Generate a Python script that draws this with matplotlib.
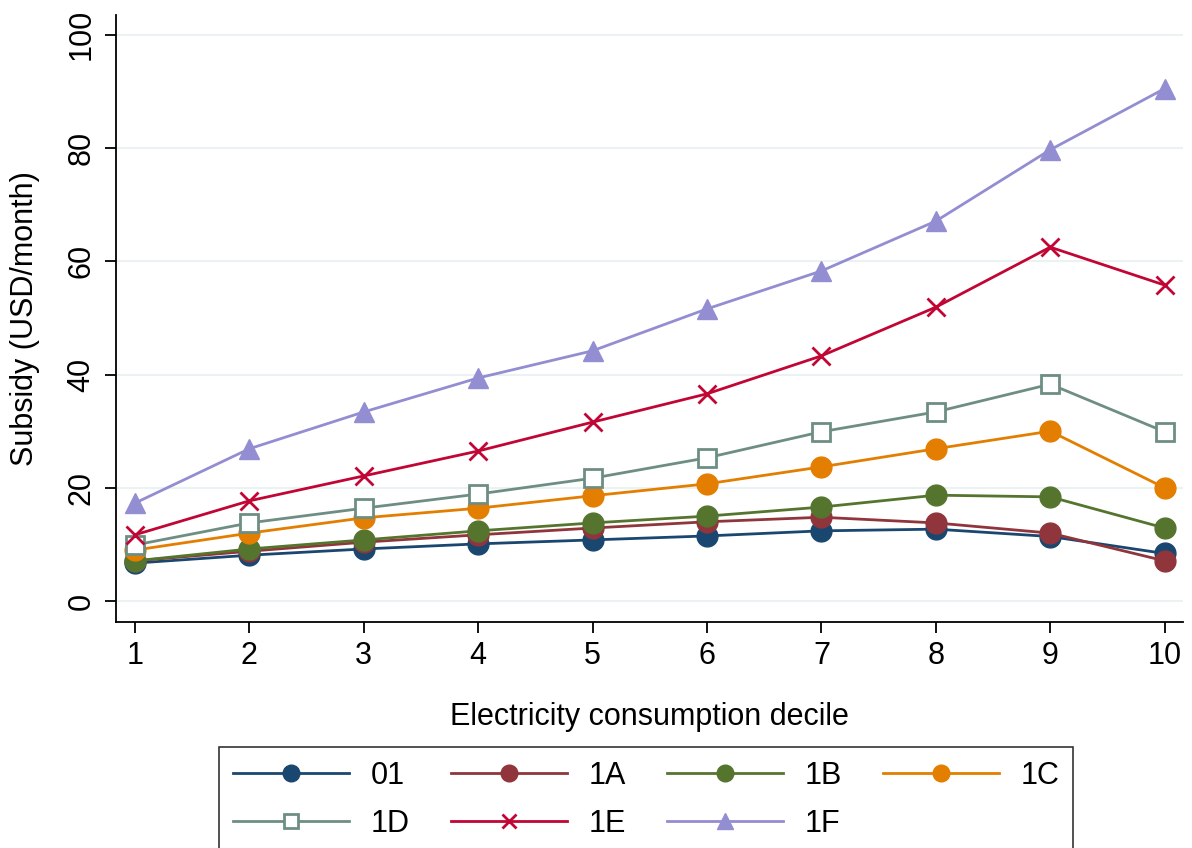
import numpy as np
import matplotlib
matplotlib.use("Agg")
import matplotlib.pyplot as plt

plt.rcParams['font.family'] = ['Liberation Sans', 'DejaVu Sans']

# deciles and subsidy series (USD/month)
deciles = [1, 2, 3, 4, 5, 6, 7, 8, 9, 10]
s_01 = [6.7, 8.1, 9.2, 10.1, 10.8, 11.5, 12.4, 12.7, 11.4, 8.4]
s_1A = [7.1, 8.8, 10.4, 11.7, 12.9, 14.0, 14.8, 13.8, 12.0, 7.1]
s_1B = [7.1, 9.2, 10.8, 12.4, 13.8, 15.0, 16.6, 18.7, 18.4, 12.9]
s_1C = [9.0, 12.0, 14.7, 16.4, 18.6, 20.7, 23.7, 26.9, 30.0, 20.0]
s_1D = [9.9, 13.8, 16.4, 18.9, 21.7, 25.3, 29.9, 33.4, 38.3, 29.9]
s_1E = [11.7, 17.7, 22.1, 26.5, 31.6, 36.6, 43.3, 51.9, 62.5, 55.8]
s_1F = [17.3, 26.9, 33.4, 39.4, 44.2, 51.6, 58.3, 67.1, 79.7, 90.5]

labels = ['01', '1A', '1B', '1C', '1D', '1E', '1F']
series = [s_01, s_1A, s_1B, s_1C, s_1D, s_1E, s_1F]
colors = ['#1a476f', '#90353b', '#55752f', '#e37e00', '#6e8e84', '#c10534', '#938dd2']
markers = ['o', 'o', 'o', 'o', 's', 'x', '^']

fig = plt.figure(figsize=(11.92, 8.48), dpi=100)
ax = fig.add_axes([0.0973, 0.2665, 0.8951, 0.7158])

for lab, ys, c, m in zip(labels, series, colors, markers):
    kw = dict(color=c, lw=2, marker=m, label=lab)
    if m == 's':
        kw.update(markersize=12.5, markerfacecolor='white', markeredgecolor=c, markeredgewidth=2)
    elif m == 'x':
        kw.update(markersize=13, markeredgewidth=2)
    elif m == '^':
        kw.update(markersize=15, markeredgecolor=c)
    else:
        kw.update(markersize=15, markeredgecolor=c)
    ax.plot(deciles, ys, **kw)

ax.set_xlim(0.834, 10.16)
ax.set_ylim(-3.7, 103.5)
ax.set_xticks(deciles)
ax.set_yticks([0, 20, 40, 60, 80, 100])
ax.grid(axis='y', color='#eaf2f3', lw=1.5)
ax.set_axisbelow(True)
for sp in ['top', 'right']:
    ax.spines[sp].set_visible(False)
for sp in ['left', 'bottom']:
    ax.spines[sp].set_linewidth(1.3)
ax.tick_params(direction='out', length=8, width=1.3, labelsize=22, colors='black', pad=6)
plt.setp(ax.get_yticklabels(), rotation=90, va='center')
ax.set_xlabel('Electricity consumption decile', fontsize=22, labelpad=22)
ax.set_ylabel('Subsidy (USD/month)', fontsize=22, labelpad=19)

# legend filled row by row like the reference
handles, labs = ax.get_legend_handles_labels()
order = [0, 4, 1, 5, 2, 6, 3]
leg = fig.legend([handles[i] for i in order], [labs[i] for i in order], ncol=4,
                 loc='upper center', bbox_to_anchor=(0.542, 0.137),
                 fontsize=22, frameon=True, fancybox=False, markerscale=0.8,
                 handlelength=3.8, columnspacing=1.35, handletextpad=0.7, borderpad=0.45,
                 labelspacing=0.6)
leg.get_frame().set_edgecolor('black')
leg.get_frame().set_linewidth(1.2)

fig.savefig('out.png', dpi=100)
